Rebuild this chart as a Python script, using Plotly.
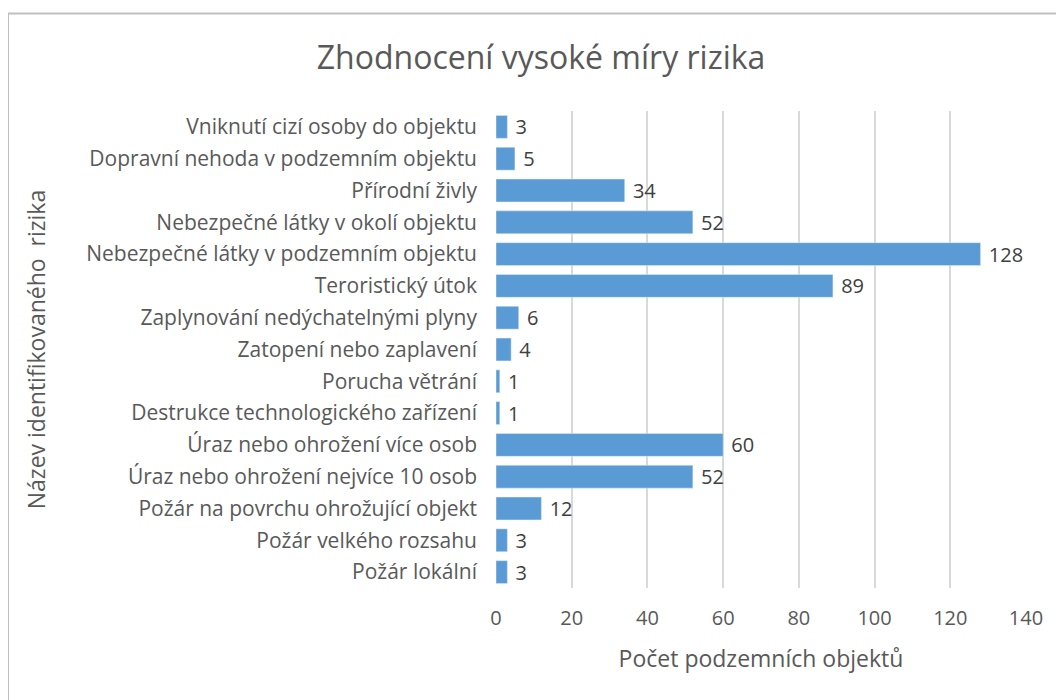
import plotly.graph_objects as go

# categories, listed top to bottom as in the chart
risks = [
    "Vniknutí cizí osoby do objektu",
    "Dopravní nehoda v podzemním objektu",
    "Přírodní živly",
    "Nebezpečné látky v okolí objektu",
    "Nebezpečné látky v podzemním objektu",
    "Teroristický útok",
    "Zaplynování nedýchatelnými plyny",
    "Zatopení nebo zaplavení",
    "Porucha větrání",
    "Destrukce technologického zařízení",
    "Úraz nebo ohrožení více osob",
    "Úraz nebo ohrožení nejvíce 10 osob",
    "Požár na povrchu ohrožující objekt",
    "Požár velkého rozsahu",
    "Požár lokální",
]
counts = [3, 5, 34, 52, 128, 89, 6, 4, 1, 1, 60, 52, 12, 3, 3]
x_ticks = [0, 20, 40, 60, 80, 100, 120, 140]

FONT = "Open Sans"
GREY = "#595959"

# plot area in pixels (page adds an 8px body margin)
L, T, W, H = 488, 103, 530, 477

fig = go.Figure(
    go.Bar(
        x=counts,
        y=risks,
        orientation="h",
        marker=dict(color="#5B9BD5"),
        text=counts,
        texttemplate=" %{text}",
        textposition="outside",
        constraintext="none",
        textfont=dict(size=20, color="#404040", family=FONT),
        cliponaxis=False,
    )
)

fig.update_layout(
    width=1064,
    height=700,
    margin=dict(l=L, r=1064 - L - W, t=T, b=700 - T - H),
    plot_bgcolor="white",
    paper_bgcolor="white",
    bargap=0.28,
    showlegend=False,
    font=dict(family=FONT, color=GREY),
    title=dict(
        text="Zhodnocení vysoké míry rizika",
        x=0.501,
        xanchor="center",
        y=0.9286,
        yanchor="middle",
        font=dict(size=32, color=GREY, family=FONT),
    ),
)

fig.update_xaxes(
    range=[0, 140],
    tickvals=x_ticks,
    showgrid=True,
    gridcolor="#D9D9D9",
    gridwidth=1.5,
    zeroline=False,
    showline=False,
    ticks="",
    ticklabelstandoff=16,
    tickfont=dict(size=20, color=GREY),
    title=dict(text="Počet podzemních objektů", font=dict(size=23, color=GREY), standoff=20),
)
fig.update_yaxes(
    autorange="reversed",
    showgrid=False,
    showline=False,
    ticks="",
    ticklabelstandoff=18,
    tickfont=dict(size=21, color=GREY),
    title=dict(text="Název identifikovaného  rizika", font=dict(size=23, color=GREY), standoff=34),
)

# outer chart frame (left and top edges visible, the rest runs off the picture)
fig.add_shape(
    type="rect",
    xref="paper",
    yref="paper",
    x0=(0 - L) / W,
    x1=(1080 - L) / W,
    y0=(T + H - 720) / H,
    y1=(T + H - 5.5) / H,
    line=dict(color="#BFBFBF", width=2),
    layer="below",
)

fig.write_html("out.html")
